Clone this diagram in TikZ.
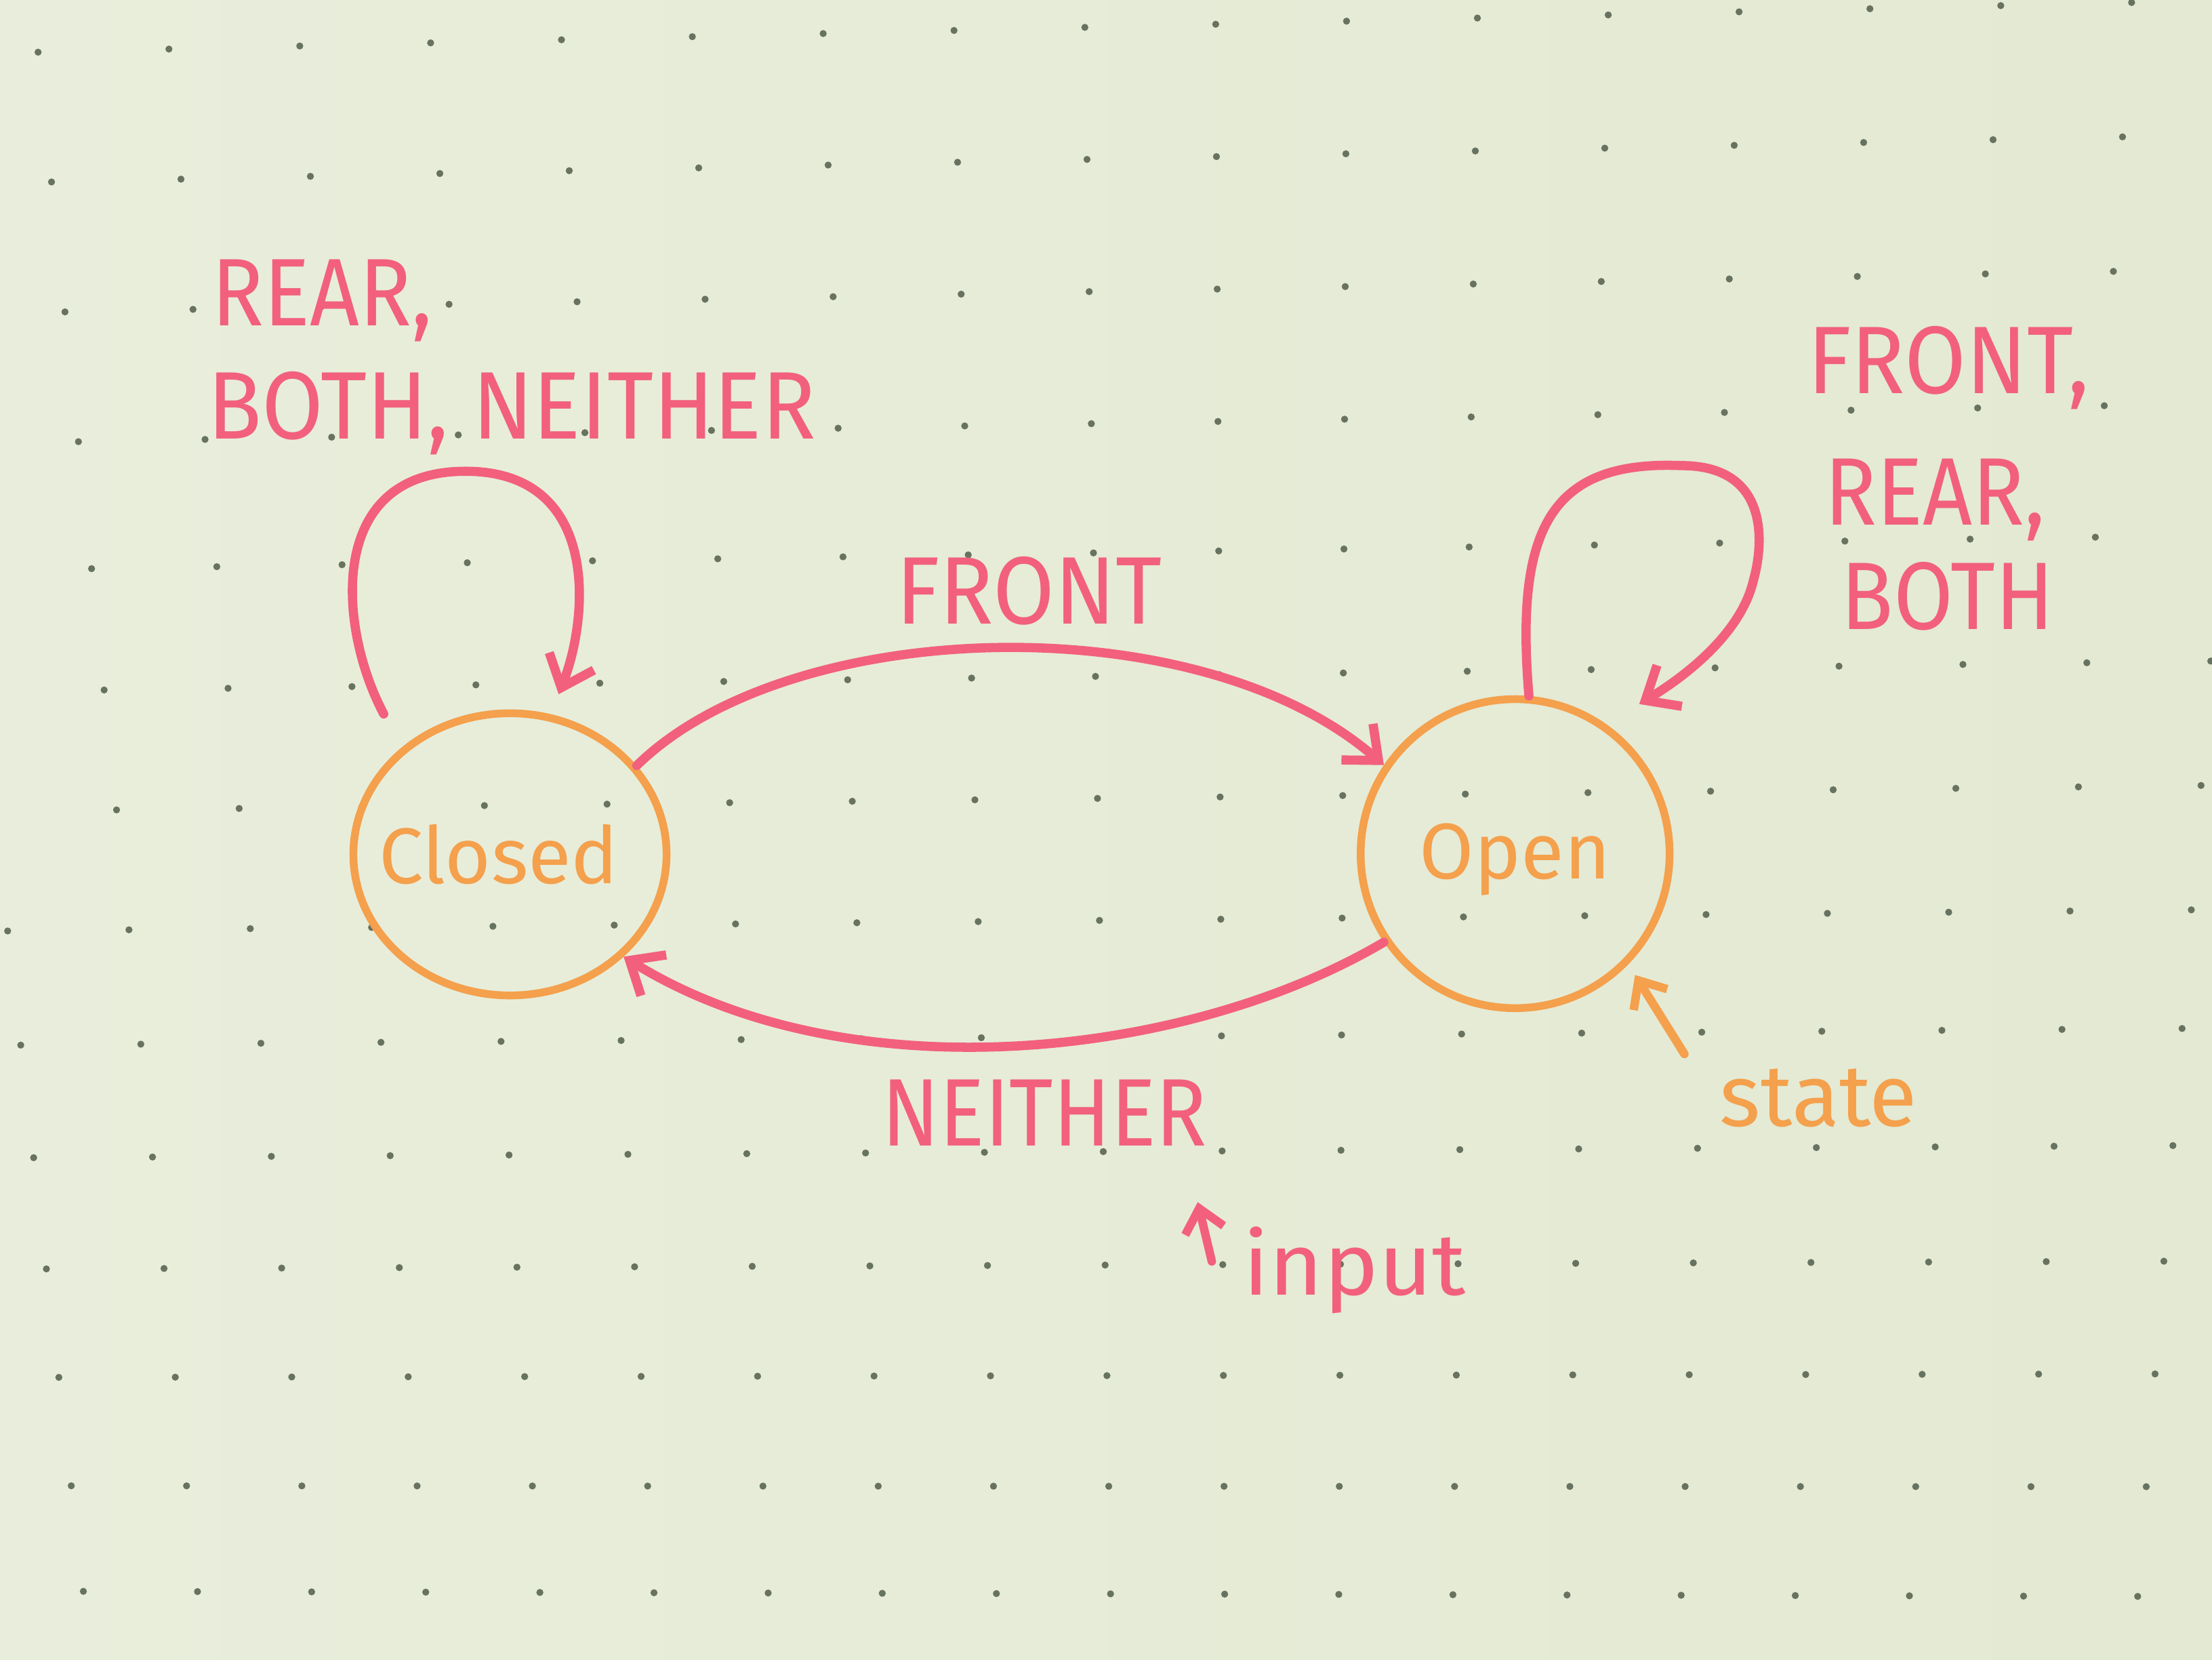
\documentclass[tikz,border=0pt]{standalone}
\usepackage{graphicx}
\usepackage{fontspec}
\setmainfont{Fira Sans}
\usetikzlibrary{arrows.meta,shapes.geometric}
\definecolor{paper}{HTML}{E3E9D2}
\definecolor{paperlight}{HTML}{E9EEDC}
\definecolor{dotc}{HTML}{687260}
\definecolor{pinkpen}{HTML}{F2607E}
\definecolor{orangepen}{HTML}{F4A04C}
\newcommand{\hcaps}[1]{\scalebox{0.9}[1]{#1}}
\begin{document}
\begin{tikzpicture}[x=1pt,y=1pt,
  statebox/.style={ellipse, draw=orangepen, line width=5.5pt, inner sep=0pt},
  statetext/.style={text=orangepen, inner sep=0pt, font=\fontsize{56}{64}\selectfont},
  trans/.style={draw=pinkpen, line width=6.5pt, line cap=round, line join=round,
    -{Straight Barb[length=20pt,width=34pt]}},
  pointer/.style={line width=6pt, line cap=round, line join=round,
    -{Straight Barb[length=16pt,width=28pt]}},
  lbl/.style={text=pinkpen, inner sep=0pt, anchor=base west,
    font=\fontsize{68}{80}\selectfont},
  note/.style={inner sep=0pt, anchor=base west, font=\fontsize{62}{70}\selectfont}
]
% paper
\useasboundingbox (0,0) rectangle (1568,1176);
\shade[left color=paperlight, right color=paper] (0,0) rectangle (1568,1176);
% dot grid (perspective)
\begin{scope}
\clip (0,0) rectangle (1568,1176);
\foreach \t in {0,0.0843,0.1687,0.2530,0.3355,0.4143,0.4922,0.5701,0.6444,0.7177,0.7901,0.8607,0.9313,1}{
  \foreach \c in {-2,...,18}{
    \pgfmathsetmacro\xx{(1-\t)*(27+92.75*\c)+\t*(140+80.9*\c)}
    \pgfmathsetmacro\yy{1176-((1-\t)*(37-2.2*\c)+\t*(1128+0.2*\c))}
    \fill[dotc] (\xx,\yy) circle (2.5);
  }
}
\end{scope}

% states
\node[statebox, minimum width=222pt, minimum height=200pt,
  label={[statetext, xshift=-8pt]center:Closed}] (closed) at (361.5,570.5) {};
\node[statebox, minimum width=219pt, minimum height=219pt,
  label={[statetext, yshift=-4pt]center:Open}] (open) at (1074,571) {};

% loop end points
\coordinate (clA) at (272,670);
\coordinate (clB) at (396,684);
\coordinate (opB) at (1162,677);
\coordinate (stA) at (1194,429);
\coordinate (stB) at (1159,485);
\coordinate (inA) at (859,282);
\coordinate (inB) at (849,324);

% transitions
\draw[trans] (closed.35) .. controls (560,740) and (850,748) .. (open.146);
\draw[trans] (open.214) .. controls (840,425) and (600,400) .. (closed.-42);
\draw[trans] (clA) .. controls (240,730) and (230,842) .. (330,842)
  .. controls (425,842) and (418,740) .. (clB);
\draw[trans] (open.85) .. controls (1074,800) and (1098,850) .. (1192,846)
  .. controls (1255,846) and (1250,790) .. (1243,765)
  .. controls (1235,730) and (1200,700) .. (opB);

% labels
\node[lbl] (lblCa) at (150,945) {\hcaps{REAR,}};
\node[lbl] (lblCb) at (147,865) {\scalebox{0.93}[1]{BOTH, NEITHER}};
\node[lbl] (lblF) at (635,734) {\scalebox{0.93}[1]{FRONT}};
\node[lbl] (lblN) at (625,364) {\scalebox{0.88}[1]{NEITHER}};
\node[lbl] (lblOa) at (1281,897) {\scalebox{0.93}[1]{FRONT,}};
\node[lbl] (lblOb) at (1293,804) {\hcaps{REAR,}};
\node[lbl] (lblOc) at (1305,730) {\hcaps{BOTH}};

% annotations
\node[note, text=orangepen] (lblS) at (1219,378) {state};
\node[note, text=pinkpen] (lblI) at (881,258) {\scalebox{1.06}[1]{input}};
\draw[pointer, draw=orangepen] (stA) -- (stB);
\draw[pointer, draw=pinkpen] (inA) -- (inB);
\end{tikzpicture}
\end{document}
